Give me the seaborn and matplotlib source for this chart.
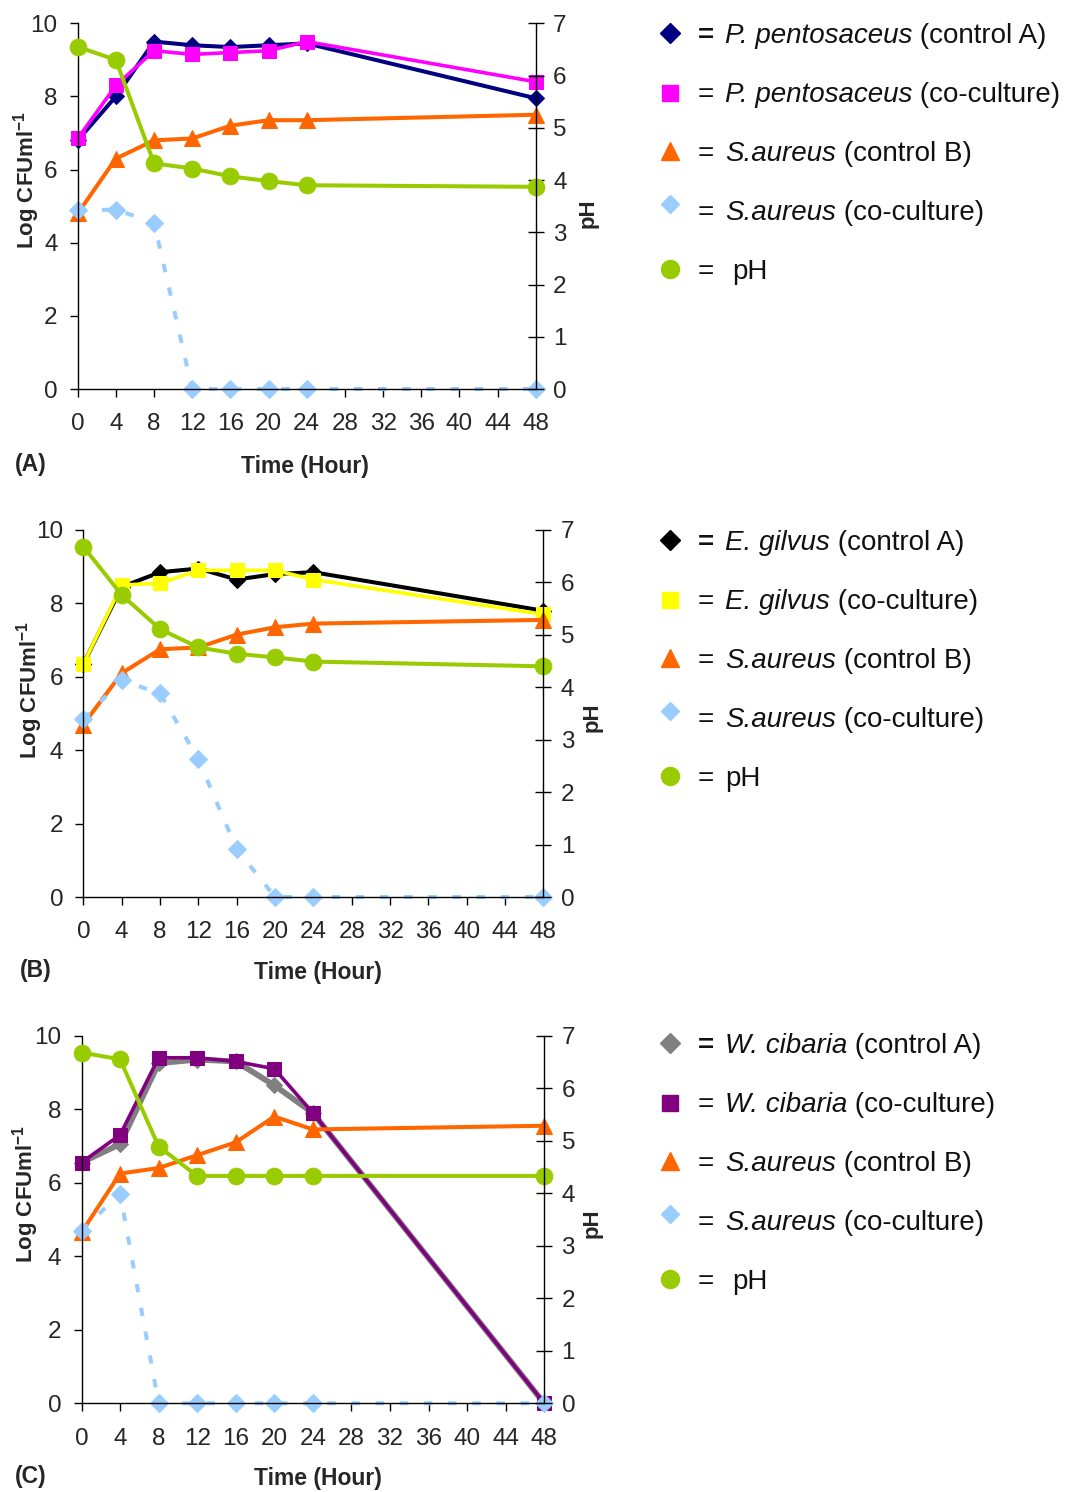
import seaborn as sns
import matplotlib.pyplot as plt

# sampling times (hours)
hours = [0, 4, 8, 12, 16, 20, 24, 48]

# (A) P. pentosaceus
a_lab_ctrl = [6.8, 8.0, 9.5, 9.4, 9.35, 9.4, 9.45, 7.95]
a_lab_co = [6.85, 8.3, 9.25, 9.15, 9.2, 9.25, 9.5, 8.4]
a_sa_ctrl = [4.8, 6.3, 6.8, 6.85, 7.2, 7.35, 7.35, 7.5]
a_sa_co = [4.9, 4.9, 4.55, 0, 0, 0, 0, 0]
a_ph = [6.55, 6.3, 4.32, 4.22, 4.07, 3.98, 3.9, 3.87]

# (B) E. gilvus
b_lab_ctrl = [6.35, 8.45, 8.85, 8.95, 8.65, 8.8, 8.85, 7.8]
b_lab_co = [6.35, 8.5, 8.55, 8.9, 8.9, 8.9, 8.65, 7.7]
b_sa_ctrl = [4.7, 6.1, 6.75, 6.8, 7.15, 7.35, 7.45, 7.55]
b_sa_co = [4.85, 5.9, 5.55, 3.75, 1.3, 0, 0, 0]
b_ph = [6.68, 5.76, 5.11, 4.76, 4.64, 4.57, 4.49, 4.4]

# (C) W. cibaria
c_lab_ctrl = [6.55, 7.05, 9.25, 9.35, 9.3, 8.65, 7.9, 0]
c_lab_co = [6.55, 7.3, 9.4, 9.4, 9.3, 9.1, 7.9, 0]
c_sa_ctrl = [4.65, 6.25, 6.4, 6.75, 7.1, 7.8, 7.45, 7.55]
c_sa_co = [4.7, 5.7, 0, 0, 0, 0, 0, 0]
c_ph = [6.68, 6.55, 4.89, 4.33, 4.33, 4.33, 4.33, 4.33]

lab_names = ["P. pentosaceus", "E. gilvus", "W. cibaria"]
ctrl_colors = ["#000080", "#000000", "#808080"]
co_colors = ["#FF00FF", "#FFFF00", "#800080"]
SA_CTRL = "#FF6600"
SA_CO = "#99CCFF"
PH = "#99CC00"

sns.set_theme(style="ticks")
plt.rcParams['font.family'] = ['Liberation Sans', 'DejaVu Sans']
plt.rcParams['mathtext.fontset'] = 'custom'
plt.rcParams['mathtext.rm'] = 'Liberation Sans'
plt.rcParams['mathtext.bf'] = 'Liberation Sans:bold'

W, H = 1079, 1492
fig = plt.figure(figsize=(W / 100, H / 100), dpi=100)
renderer = fig.canvas.get_renderer()


def box(l, t, r, b):
    return [l / W, 1 - b / H, (r - l) / W, (b - t) / H]


panels = [
    dict(rect=box(77.7, 23.3, 535.8, 389), data=[a_lab_ctrl, a_lab_co, a_sa_ctrl, a_sa_co], ph=a_ph,
         tag="(A)", tag_xy=(15, 465), xl=(305, 467), yl=(27, 180), phl=(588, 213), leg0=43, ph_gap=True),
    dict(rect=box(83.4, 530, 543.4, 897), data=[b_lab_ctrl, b_lab_co, b_sa_ctrl, b_sa_co], ph=b_ph,
         tag="(B)", tag_xy=(20, 971), xl=(318, 973), yl=(30, 690), phl=(592, 717), leg0=550, ph_gap=False),
    dict(rect=box(81.5, 1035.7, 544.2, 1403.3), data=[c_lab_ctrl, c_lab_co, c_sa_ctrl, c_sa_co], ph=c_ph,
         tag="(C)", tag_xy=(15, 1476), xl=(318, 1478), yl=(26, 1194), phl=(592, 1223), leg0=1053, ph_gap=True),
]

ov = fig.add_axes([0, 0, 1, 1])
ov.set_xlim(0, W)
ov.set_ylim(H, 0)
ov.axis('off')
ov.patch.set_alpha(0)

TICK = 17.5
LEG = 20
LW = 2.9

for i, p in enumerate(panels):
    ax = fig.add_axes(p['rect'])
    lab_ctrl, lab_co, sa_ctrl, sa_co = p['data']
    cc, co = ctrl_colors[i], co_colors[i]
    lw_ctrl = 4.2 if i == 2 else LW
    sns.lineplot(x=hours, y=lab_ctrl, ax=ax, color=cc, marker='D', markersize=8.5,
                 markeredgecolor=cc, linewidth=lw_ctrl, clip_on=False)
    sns.lineplot(x=hours, y=lab_co, ax=ax, color=co, marker='s', markersize=10.5,
                 markeredgecolor=co, linewidth=LW - 0.3, clip_on=False)
    sns.lineplot(x=hours, y=sa_ctrl, ax=ax, color=SA_CTRL, marker='^', markersize=12,
                 markeredgecolor=SA_CTRL, linewidth=LW, clip_on=False)
    sns.lineplot(x=hours, y=sa_co, ax=ax, color=SA_CO, marker='D', markersize=8.7,
                 markeredgecolor=SA_CO, linewidth=LW, linestyle=(0, (2.1, 3.9)), clip_on=False)
    ax.set_xlim(0, 48)
    ax.set_ylim(0, 10)
    ax.set_xticks(range(0, 49, 4))
    ax.set_yticks(range(0, 11, 2))
    ax.set_xlabel("")
    ax.set_ylabel("")
    ax.spines['top'].set_visible(False)
    ax.spines['right'].set_visible(False)
    for s in ('left', 'bottom'):
        ax.spines[s].set_linewidth(1)
        ax.spines[s].set_color('black')
    ax.tick_params(axis='x', direction='out', length=5.5, width=1, labelsize=TICK, pad=12, color='black')
    ax.tick_params(axis='y', direction='out', length=5.5, width=1, labelsize=TICK, pad=9, color='black')

    ax2 = ax.twinx()
    sns.lineplot(x=hours, y=p['ph'], ax=ax2, color=PH, marker='o', markersize=12,
                 markeredgecolor=PH, linewidth=LW, clip_on=False)
    ax2.set_ylim(0, 7)
    ax2.set_yticks(range(0, 8))
    ax2.set_ylabel("")
    for s in ('top', 'left', 'bottom'):
        ax2.spines[s].set_visible(False)
    ax2.spines['right'].set_linewidth(1)
    ax2.spines['right'].set_color('black')
    ax2.tick_params(axis='y', direction='inout', length=11, width=1, labelsize=TICK, pad=7, color='black')

    # axis titles and panel tag
    ov.text(*p['xl'], "Time (Hour)", fontsize=16.5, fontweight='bold', ha='center', va='center')
    ov.text(*p['tag_xy'], p['tag'], fontsize=16.5, fontweight='bold', ha='left', va='center')
    ov.text(*p['yl'], r"Log CFUml$^{\mathbf{-1}}$", fontsize=16, fontweight='bold', rotation=90,
            ha='center', va='center')
    ov.text(*p['phl'], "pH", fontsize=16, fontweight='bold', rotation=90, ha='center', va='center')

    # legend on the right: marker, "=", italic name, plain rest
    rows = [
        ('D', cc, 10, -10, lab_names[i], " (control A)"),
        ('s', co, 11, -9, lab_names[i], " (co-culture)"),
        ('^', SA_CTRL, 13, -10, "S.aureus", " (control B)"),
        ('D', SA_CO, 9.5, -16, "S.aureus", " (co-culture)"),
        ('o', PH, 13, -10, "", "pH"),
    ]
    for j, (mk, col, ms, dy, it, rest) in enumerate(rows):
        yb = p['leg0'] + 59 * j
        ov.plot([670], [yb + dy], marker=mk, color=col, markersize=ms, markeredgecolor=col,
                linestyle='none')
        ov.text(698, yb, "=", fontsize=LEG, fontweight='bold' if j == 0 else 'normal',
                ha='left', va='baseline', color='#111111')
        tx = 732 if (j == 4 and p['ph_gap']) else 725
        if it:
            t = ov.text(tx, yb, it, fontsize=LEG, style='italic', ha='left', va='baseline', color='#111111')
            tx = t.get_window_extent(renderer).x1
        ov.text(tx, yb, rest, fontsize=LEG, ha='left', va='baseline', color='#111111')

fig.savefig("out.png", dpi=100)
